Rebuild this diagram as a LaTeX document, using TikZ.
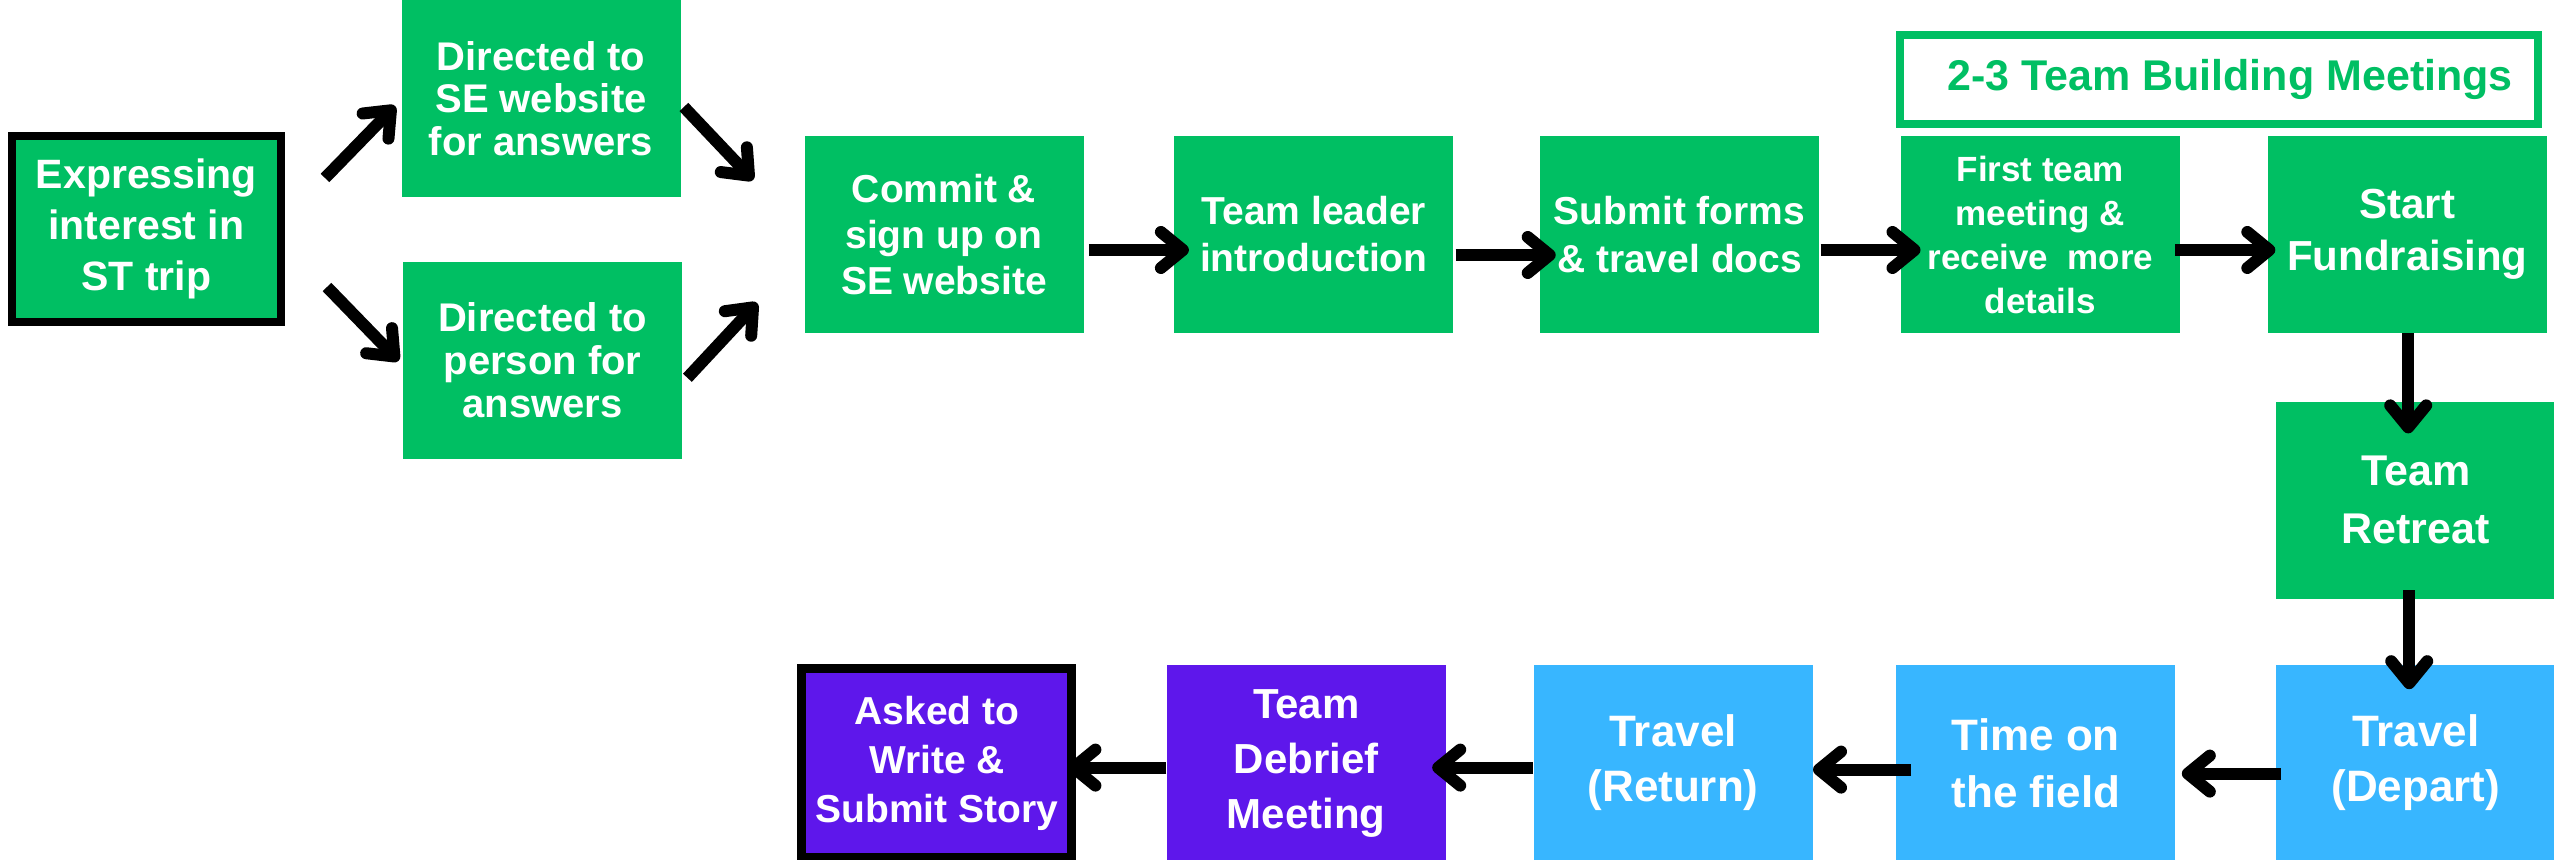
\documentclass[tikz,border=0pt]{standalone}
\usepackage{fontspec}
\setmainfont{Liberation Sans}
\usetikzlibrary{arrows.meta,positioning}

\definecolor{seGreen}{HTML}{00BF63}
\definecolor{seBlue}{HTML}{38B6FF}
\definecolor{sePurple}{HTML}{5E17EB}
\newcommand{\boxfont}[2]{\bfseries\fontsize{#1}{#2}\selectfont}

\begin{document}
\begin{tikzpicture}[x=0.5pt,y=-0.5pt,>={Straight Barb[length=11pt,width=18pt,round]},
	box/.style={rectangle,text=white,align=center,inner sep=0pt,minimum width=139.5pt,minimum height=98.5pt},
	greenbox/.style={box,fill=seGreen},
	bluebox/.style={box,fill=seBlue},
	purplebox/.style={box,fill=sePurple},
	endbox/.style={draw=black,line width=#1},
	headbox/.style={rectangle,draw=seGreen,line width=4pt,fill=white,text=seGreen,inner sep=0pt,minimum width=319pt,minimum height=44.5pt},
	flow/.style={->,line width=6pt}]
	\useasboundingbox (0,0) rectangle (2554,860);

	% first steps
	\node[greenbox,endbox=4pt,minimum width=134.5pt,minimum height=93pt,font=\boxfont{20.5}{25.5}] (expr) at (146.5,229) {Expressing\\interest in\\ST trip};
	\node[greenbox,font=\boxfont{20}{21.25}] (site) at (541,98.5) {Directed to\\SE website\\for answers};
	\node[greenbox,font=\boxfont{20}{21.5},below=32pt of site,xshift=0.75pt] (person) {Directed to\\person for\\answers};

	% top row
	\node[greenbox,font=\boxfont{19.5}{23}] (commit) at (944,234.5) {Commit \&\\sign up on\\SE website};
	\node[greenbox,font=\boxfont{19.5}{23.5},right=45pt of commit] (leader) {Team leader\\introduction};
	\node[greenbox,font=\boxfont{19.5}{24},right=43pt of leader] (forms) {Submit forms\\\& travel docs};
	\node[greenbox,font=\boxfont{17.5}{22},right=40.5pt of forms] (meet) {First team\\meeting \&\\receive\ \ more\\details};
	\node[greenbox,font=\boxfont{21}{26},right=43.5pt of meet] (funds) {Start\\Fundraising};
	\node[headbox,font=\boxfont{21.5}{26}] (tbm) at (2219,79.5) {\hspace*{11pt}2-3 Team Building Meetings};

	% right column and bottom row
	\node[greenbox,font=\boxfont{21.5}{29},below=34pt of funds,xshift=4.25pt] (retreat) {Team\\Retreat};
	\node[bluebox,font=\boxfont{22}{27.5},below=32.5pt of retreat] (depart) {Travel\\(Depart)};
	\node[bluebox,font=\boxfont{22}{28.5},left=50pt of depart] (field) {Time on\\the field};
	\node[bluebox,font=\boxfont{22}{27.5},left=41.5pt of field] (return) {Travel\\(Return)};
	\node[purplebox,font=\boxfont{21}{27.5},left=43.5pt of return] (debrief) {Team\\Debrief\\Meeting};
	\node[purplebox,endbox=4.5pt,minimum width=135pt,minimum height=94.5pt,font=\boxfont{19.5}{24.5},left=45pt of debrief] (story) {Asked to\\Write \&\\Submit Story};

	\path ([shift={(40,-51)}]expr.east) edge[flow] ([shift={(-6,7.5)}]site.west);
	\path ([shift={(42,58)}]expr.east) edge[flow] ([shift={(-4,0.5)}]person.west);
	\path ([shift={(3,8.5)}]site.east) edge[flow] ([shift={(-51,-54.5)}]commit.west);
	\path ([shift={(5,17.5)}]person.east) edge[flow] ([shift={(-47,68.5)}]commit.west);

	\path ([shift={(5,15.5)}]commit.east) edge[flow] ([shift={(15,15.5)}]leader.west);
	\path ([shift={(2,20.5)}]leader.east) edge[flow] ([shift={(16,20.5)}]forms.west);
	\path ([shift={(1,15.5)}]forms.east) edge[flow] ([shift={(20,15.5)}]meet.west);
	\path ([shift={(-5,15.5)}]meet.east) edge[flow] ([shift={(8,15.5)}]funds.west);

	\path ([shift={(1,0)}]funds.south) edge[flow] ([shift={(-7.5,32)}]retreat.north);
	\path ([shift={(-6.5,-9)}]retreat.south) edge[flow] ([shift={(-6.5,25)}]depart.north);

	\path ([shift={(5,10.5)}]depart.west) edge[flow] ([shift={(6,10.5)}]field.east);
	\path ([shift={(15,6.5)}]field.west) edge[flow] ([shift={(0,6.5)}]return.east);
	\path ([shift={(0,4.5)}]return.west) edge[flow] ([shift={(-14,4.5)}]debrief.east);
	\path ([shift={(0,4.5)}]debrief.west) edge[flow] ([shift={(-9,4.5)}]story.east);
\end{tikzpicture}
\end{document}
